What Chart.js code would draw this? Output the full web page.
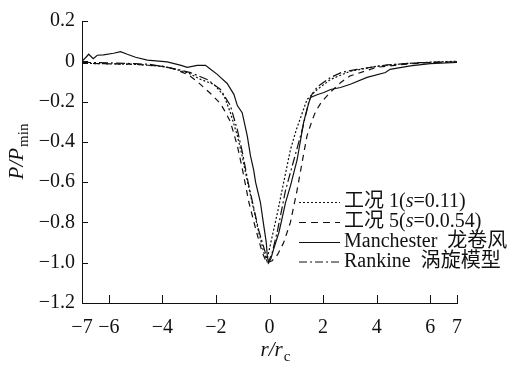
<!DOCTYPE html>
<html>
<head>
<meta charset="utf-8">
<script src="https://cdn.jsdelivr.net/npm/chart.js@4.4.0/dist/chart.umd.min.js"></script>
<style>
  html, body { margin: 0; padding: 0; background: #fff; }
  #wrap { width: 516px; height: 369px; }
</style>
</head>
<body>
<div id="wrap"><canvas id="chart" width="516" height="369"></canvas></div>
<script>
/* =============================================
   DATA
   ============================================= */
const xTicks = [-7, -6, -4, -2, 0, 2, 4, 6, 7];
const yMin = -1.2, yMax = 0.2, yStep = 0.2;

// 工况 1 (s=0.11) – dotted
const case1X = [-7, -5, -4, -3.5, -3, -2.57, -2.08, -1.7, -1.46, -1.2, -1.02, -0.9, -0.65, -0.4, -0.21, -0.1,
                0.1, 0.3, 0.5, 0.78, 1.0, 1.16, 1.4, 1.78, 2.28, 3, 4, 5, 6, 7];
const case1Y = [-0.01, -0.015, -0.025, -0.04, -0.06, -0.09, -0.114, -0.17, -0.255, -0.37, -0.47, -0.55, -0.70, -0.85, -0.95, -0.99,
                -0.87, -0.75, -0.62, -0.44, -0.34, -0.28, -0.19, -0.14, -0.09, -0.05, -0.025, -0.012, -0.004, 0];

// 工况 5 (s=0.0.54) – dashed
const case5X = [-7, -5, -4, -3.5, -3, -2.7, -2.2, -1.83, -1.7, -1.46, -1.2, -1.02, -0.77, -0.52, -0.27, -0.1,
                0.1, 0.3, 0.53, 0.78, 1.03, 1.22, 1.4, 1.6, 1.72, 1.95, 2.3, 2.65, 3.0, 4, 5, 6, 7];
const case5Y = [-0.01, -0.015, -0.025, -0.04, -0.07, -0.1, -0.16, -0.21, -0.24, -0.30, -0.42, -0.53, -0.70, -0.83, -0.95, -1.0,
                -0.99, -0.96, -0.9, -0.8, -0.64, -0.50, -0.37, -0.29, -0.25, -0.20, -0.15, -0.106, -0.073, -0.03, -0.015, -0.006, -0.002];

// Manchester 龙卷风 – solid
const manX = [-7, -6.85, -6.75, -6.58, -6.43, -6.2, -5.82, -5.56, -5.31, -5.0, -4.56, -3.82, -3.3, -3.07, -2.7, -2.39,
              -2.2, -1.95, -1.83, -1.58, -1.33, -1.2, -1.02, -0.83, -0.71, -0.59, -0.52, -0.34, -0.21, -0.12, -0.08, -0.03,
              0.05, 0.16, 0.35, 0.47, 0.6, 0.78, 1.03, 1.28, 1.47, 1.53, 1.8, 2.03, 2.28, 2.65, 3.02, 3.64, 4.33, 4.5,
              5.26, 6.0, 7];
const manY = [0, 0.02, 0.035, 0.013, 0.03, 0.032, 0.04, 0.048, 0.035, 0.02, 0.006, -0.003, -0.02, -0.03, -0.02, -0.02,
              -0.04, -0.065, -0.08, -0.11, -0.164, -0.22, -0.255, -0.37, -0.47, -0.54, -0.6, -0.70, -0.82, -0.9, -0.97, -1.0,
              -0.98, -0.93, -0.85, -0.78, -0.70, -0.62, -0.49, -0.30, -0.205, -0.18, -0.165, -0.155, -0.14, -0.13, -0.114, -0.08, -0.056, -0.04,
              -0.023, -0.012, -0.006];

// Rankine 涡旋模型 – dash-dot
const rankX = [-7, -6, -5, -4.5, -4, -3.58, -2.95, -2.33, -1.83, -1.46, -1.2, -1.0, -0.8, -0.6, -0.4, -0.2, -0.05,
               0.1, 0.3, 0.6, 0.91, 1.22, 1.47, 1.6, 1.8, 2.28, 2.7, 3.27, 4.4, 5.6, 7];
const rankY = [-0.005, -0.008, -0.012, -0.015, -0.025, -0.036, -0.056, -0.09, -0.14, -0.22, -0.34, -0.46, -0.6, -0.72, -0.84, -0.93, -1.0,
               -0.95, -0.84, -0.64, -0.49, -0.34, -0.2, -0.16, -0.125, -0.08, -0.055, -0.04, -0.018, -0.007, -0.003];

const legendParts = [
  [['工况 1(', false], ['s', true], ['=0.11)', false]],
  [['工况 5(', false], ['s', true], ['=0.0.54)', false]],
  [['Manchester  龙卷风', false]],
  [['Rankine  涡旋模型', false]]
];

/* =============================================
   STYLE
   ============================================= */
const INK = '#111';
const SERIF = '"Liberation Serif", "Noto Sans CJK SC", serif';
const dashes = [[2, 2], [6, 5], [], [9, 3, 2, 3]];
const legendDashes = [[2, 2], [7, 5], [], [8, 3, 2, 3]];

const zip = (xs, ys) => xs.map((x, i) => ({ x, y: ys[i] }));
const minus = s => s.replace('-', '\u2212');

function lineSet(label, xs, ys, dash) {
  return {
    label,
    data: zip(xs, ys),
    showLine: true,
    borderColor: INK,
    borderWidth: 1.2,
    borderDash: dash,
    pointRadius: 0,
    tension: 0,
    fill: false
  };
}

/* inward tick marks */
const inwardTicks = {
  id: 'inwardTicks',
  afterDraw(chart) {
    const { ctx, chartArea: a, scales: { x, y } } = chart;
    ctx.save();
    ctx.strokeStyle = INK;
    ctx.lineWidth = 1;
    ctx.setLineDash([]);
    ctx.beginPath();
    x.ticks.forEach(t => {
      const px = Math.round(x.getPixelForValue(t.value)) + 0.5;
      ctx.moveTo(px, a.bottom); ctx.lineTo(px, a.bottom - 8);
    });
    y.ticks.forEach(t => {
      const py = Math.round(y.getPixelForValue(t.value)) + 0.5;
      ctx.moveTo(a.left, py); ctx.lineTo(a.left + 6, py);
    });
    ctx.stroke();
    ctx.restore();
  }
};

function drawParts(ctx, parts, x, y, size) {
  parts.forEach(([txt, ital]) => {
    ctx.font = (ital ? 'italic ' : '') + size + 'px ' + SERIF;
    ctx.fillText(txt, x, y);
    x += ctx.measureText(txt).width;
  });
  return x;
}

/* legend inside the plot, bottom right */
const innerLegend = {
  id: 'innerLegend',
  afterDraw(chart) {
    const { ctx } = chart;
    const rows = [202, 222, 242, 261.5];
    ctx.save();
    ctx.fillStyle = INK;
    ctx.strokeStyle = INK;
    ctx.lineWidth = 1.2;
    ctx.textBaseline = 'middle';
    rows.forEach((ry, i) => {
      ctx.setLineDash(legendDashes[i]);
      ctx.beginPath();
      ctx.moveTo(299, ry + 0.5); ctx.lineTo(340, ry + 0.5);
      ctx.stroke();
      drawParts(ctx, legendParts[i], 344, ry, 20);
    });
    ctx.restore();
  }
};

/* axis titles with subscripts */
const axisTitles = {
  id: 'axisTitles',
  afterDraw(chart) {
    const { ctx } = chart;
    ctx.save();
    ctx.fillStyle = INK;
    ctx.textBaseline = 'alphabetic';

    // y title: P/P_min, rotated
    const big = 'italic 21px ' + SERIF, sub = '15px ' + SERIF;
    ctx.font = big; const w1 = ctx.measureText('P/P').width;
    ctx.font = sub; const w2 = ctx.measureText('min').width;
    ctx.translate(23, 152 + (w1 + w2) / 2);
    ctx.rotate(-Math.PI / 2);
    ctx.font = big; ctx.fillText('P/P', 0, 0);
    ctx.font = sub; ctx.fillText('min', w1 + 1, 5);
    ctx.setTransform(1, 0, 0, 1, 0, 0);

    // x title: r/r_c
    ctx.font = big; const w3 = ctx.measureText('r/r').width;
    ctx.font = sub; const w4 = ctx.measureText('c').width;
    const sx = 275 - (w3 + w4) / 2;
    ctx.font = big; ctx.fillText('r/r', sx, 356);
    ctx.font = sub; ctx.fillText('c', sx + w3 + 1, 361);
    ctx.restore();
  }
};

/* =============================================
   CHART
   ============================================= */
new Chart(document.getElementById('chart'), {
  type: 'scatter',
  data: {
    datasets: [
      lineSet('工况 1(s=0.11)', case1X, case1Y, dashes[0]),
      lineSet('工况 5(s=0.0.54)', case5X, case5Y, dashes[1]),
      lineSet('Manchester 龙卷风', manX, manY, dashes[2]),
      lineSet('Rankine 涡旋模型', rankX, rankY, dashes[3])
    ]
  },
  options: {
    responsive: false,
    animation: false,
    devicePixelRatio: 1,
    layout: { padding: { left: 0, right: 59, top: 21, bottom: 0 } },
    plugins: { legend: { display: false }, tooltip: { enabled: false } },
    scales: {
      x: {
        type: 'linear', min: -7, max: 7,
        afterBuildTicks: s => { s.ticks = xTicks.map(v => ({ value: v })); },
        afterFit: s => { s.height = 66; },
        grid: { display: false, drawTicks: false, tickLength: 0 },
        border: { display: true, color: INK, width: 1 },
        ticks: {
          color: INK, padding: 13, maxRotation: 0, autoSkip: false,
          font: { family: SERIF, size: 20 },
          callback: v => minus(String(v))
        }
      },
      y: {
        min: yMin, max: yMax,
        afterFit: s => { s.width = 82; },
        grid: { display: false, drawTicks: false, tickLength: 0 },
        border: { display: true, color: INK, width: 1 },
        ticks: {
          stepSize: yStep, color: INK, padding: 7,
          font: { family: SERIF, size: 20 },
          callback: v => {
            const r = Math.round(v * 10) / 10;
            return r === 0 ? '0' : minus(r.toFixed(1));
          }
        }
      }
    }
  },
  plugins: [inwardTicks, innerLegend, axisTitles]
});
</script>
</body>
</html>
